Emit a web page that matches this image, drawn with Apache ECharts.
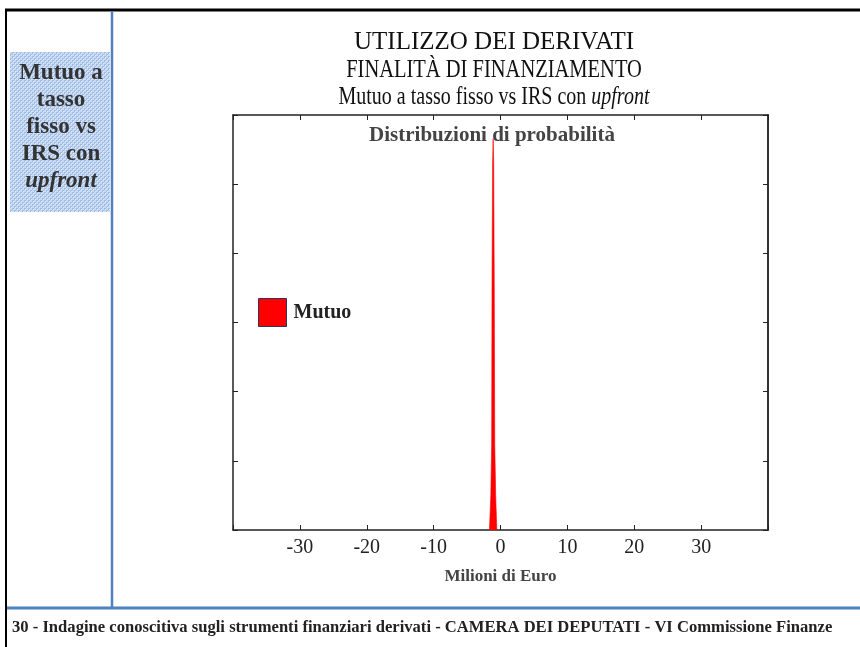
<!DOCTYPE html>
<html>
<head>
<meta charset="utf-8">
<title>Utilizzo dei derivati</title>
<script src="https://cdn.jsdelivr.net/npm/echarts@6/dist/echarts.min.js"></script>
<style>
  html, body { margin: 0; padding: 0; background: #fff; }
  #chart { width: 860px; height: 647px; }
</style>
</head>
<body>
<div id="chart"></div>
<script>
// Probability distribution of the fixed-rate loan outcome (millions of euro)
const mutuoX       = [-1.65, -1.45, -1.32, -1.27, -1.18, -1.1, -1.02, -0.93, -0.86, -0.72, -0.55];
const mutuoDensity = [0,     0.5,   1.25,  3.5,   5.3,   5.66, 5.3,   3.5,   1.25,  0.5,   0];

// Tick labels shown on the horizontal axis
const xTickLabels = [-30, -20, -10, 0, 10, 20, 30];

const seriesName = 'Mutuo';
const SERIF = '"Liberation Serif", "DejaVu Serif", serif';

// Dithered light-blue fill for the side box
function ditherPattern() {
  const c = document.createElement('canvas');
  c.width = 4; c.height = 4;
  const g = c.getContext('2d');
  g.fillStyle = '#c9dbf3';
  g.fillRect(0, 0, 4, 4);
  g.fillStyle = '#9dbbe6';
  g.fillRect(0, 0, 2, 2);
  g.fillRect(2, 2, 2, 2);
  g.fillStyle = '#e4edf9';
  g.fillRect(1, 1, 1, 1);
  g.fillRect(3, 3, 1, 1);
  return c;
}

const chart = echarts.init(document.getElementById('chart'), null, { renderer: 'canvas' });

const frameLine = { show: true, onZero: false, lineStyle: { color: '#222', width: 1.5 } };
const innerTick = { show: true, inside: true, length: 5, lineStyle: { color: '#222' } };

// condensed heading line centred at x = 494 (scaled about its own anchor)
function heading(text, y, sx, rich) {
  return {
    type: 'text', x: 494, y: y, scaleX: sx,
    style: Object.assign({ text: text, align: 'center', verticalAlign: 'middle',
      fontFamily: SERIF, fontSize: 25, fill: '#111' }, rich ? { rich: rich } : {})
  };
}

chart.setOption({
  backgroundColor: '#fff',
  animation: false,
  grid: { left: 233, right: 92, top: 115, bottom: 117, containLabel: false },
  legend: {
    data: [seriesName],
    left: 253, top: 293,
    icon: 'rect',
    itemWidth: 28, itemHeight: 28,
    itemStyle: { color: '#ff0000', borderColor: '#33335a', borderWidth: 1 },
    textStyle: { fontFamily: SERIF, fontWeight: 'bold', fontSize: 20, color: '#222', padding: [0, 0, 0, 2] }
  },
  xAxis: [
    {
      type: 'value', position: 'bottom',
      min: -40, max: 40, interval: 10,
      axisLine: frameLine,
      axisTick: innerTick,
      splitLine: { show: false },
      axisLabel: {
        fontFamily: SERIF, fontSize: 20, color: '#222', margin: 8,
        formatter: v => xTickLabels.includes(v) ? String(v) : ''
      },
      name: 'Milioni di Euro', nameLocation: 'middle', nameGap: 38,
      nameTextStyle: { fontFamily: SERIF, fontWeight: 'bold', fontSize: 17, color: '#444' }
    },
    {
      type: 'value', position: 'top',
      min: -40, max: 40, interval: 10,
      axisLine: frameLine,
      axisTick: innerTick,
      axisLabel: { show: false },
      splitLine: { show: false }
    }
  ],
  yAxis: [
    {
      type: 'value', position: 'left',
      min: 0, max: 6, interval: 1,
      axisLine: frameLine,
      axisTick: innerTick,
      axisLabel: { show: false },
      splitLine: { show: false }
    },
    {
      type: 'value', position: 'right',
      min: 0, max: 6, interval: 1,
      axisLine: { show: true, onZero: false, lineStyle: { color: '#333', width: 2 } },
      axisTick: innerTick,
      axisLabel: { show: false },
      splitLine: { show: false }
    }
  ],
  series: [{
    name: seriesName,
    type: 'line',
    xAxisIndex: 0, yAxisIndex: 0,
    data: mutuoX.map((x, i) => [x, mutuoDensity[i]]),
    showSymbol: false,
    lineStyle: { color: '#ff0000', width: 0.6 },
    itemStyle: { color: '#ff0000', borderColor: '#33335a' },
    areaStyle: { color: '#ff0000', opacity: 1 },
    z: 3
  }],
  graphic: [
    // page frame
    { type: 'line', shape: { x1: 5, y1: 10, x2: 860, y2: 10 }, style: { stroke: '#000', lineWidth: 3 } },
    { type: 'line', shape: { x1: 6, y1: 9, x2: 6, y2: 647 }, style: { stroke: '#000', lineWidth: 2 } },
    { type: 'line', shape: { x1: 112, y1: 11, x2: 112, y2: 608 }, style: { stroke: '#4f81bd', lineWidth: 2.5 } },
    { type: 'line', shape: { x1: 7, y1: 608, x2: 860, y2: 608 }, style: { stroke: '#4f81bd', lineWidth: 3 } },
    // side box
    { type: 'rect', shape: { x: 10, y: 52, width: 100, height: 160 },
      style: { fill: { image: ditherPattern(), repeat: 'repeat' } } },
    { type: 'text', x: 61, y: 127, style: {
        text: '{b|Mutuo a}\n{b|tasso}\n{b|fisso vs}\n{b|IRS con}\n{i|upfront}',
        align: 'center', verticalAlign: 'middle', lineHeight: 27,
        rich: {
          b: { fontFamily: SERIF, fontWeight: 'bold', fontSize: 23, fill: '#333', lineHeight: 27 },
          i: { fontFamily: SERIF, fontWeight: 'bold', fontStyle: 'italic', fontSize: 23, fill: '#333', lineHeight: 27 }
        } } },
    // headings
    heading('UTILIZZO DEI DERIVATI', 42, 1.0),
    heading('FINALITÀ DI FINANZIAMENTO', 70, 0.82),
    heading('{n|Mutuo a tasso fisso vs IRS con }{i|upfront}', 97, 0.8, {
      n: { fontFamily: SERIF, fontSize: 25, fill: '#111' },
      i: { fontFamily: SERIF, fontSize: 25, fontStyle: 'italic', fill: '#111' }
    }),
    // plot heading
    { type: 'text', x: 492, y: 136, z: 10, style: { text: 'Distribuzioni di probabilità', align: 'center', verticalAlign: 'middle',
        fontFamily: SERIF, fontWeight: 'bold', fontSize: 21, fill: '#444' } },
    // footer
    { type: 'text', x: 12, y: 628, style: {
        text: '30 - Indagine conoscitiva sugli strumenti finanziari derivati - CAMERA DEI DEPUTATI - VI Commissione Finanze',
        align: 'left', verticalAlign: 'middle', fontFamily: SERIF, fontWeight: 'bold', fontSize: 16.6, fill: '#222' } }
  ]
});
</script>
</body>
</html>
